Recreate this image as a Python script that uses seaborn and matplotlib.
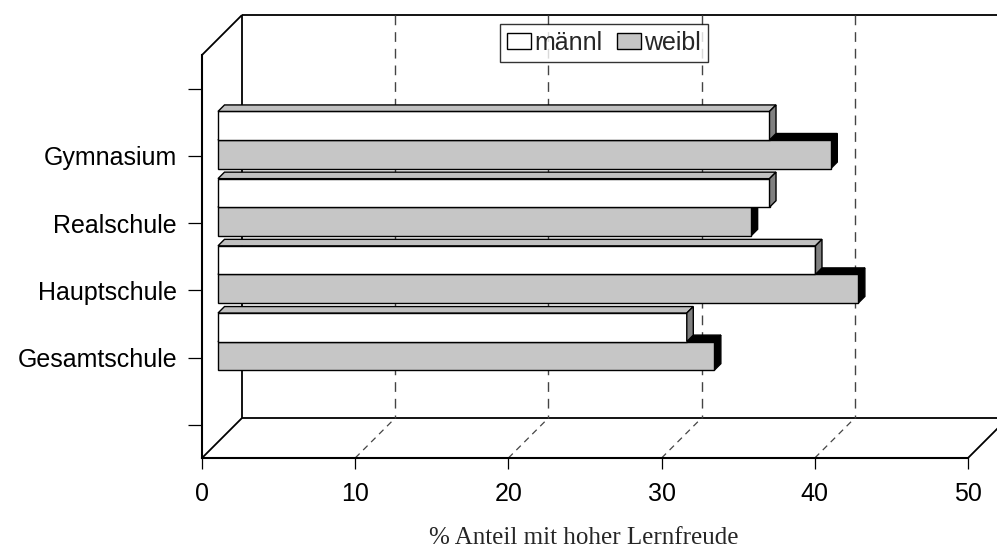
import matplotlib
matplotlib.use("Agg")
import matplotlib.pyplot as plt
import seaborn as sns
import pandas as pd
from matplotlib.patches import Polygon, Patch
from matplotlib.transforms import ScaledTranslation

# ---- data ----
categories = ["Gymnasium", "Realschule", "Hauptschule", "Gesamtschule"]
maennl = [36.0, 36.0, 39.0, 30.6]
weibl = [40.0, 34.8, 41.8, 32.4]
series_names = ["männl", "weibl"]
x_ticks = [0, 10, 20, 30, 40, 50]
x_label = "% Anteil mit hoher Lernfreude"

df = pd.DataFrame({
    "Schule": categories * 2,
    "Geschlecht": [series_names[0]] * 4 + [series_names[1]] * 4,
    "Wert": maennl + weibl,
})

sns.set_style("white")
plt.rcParams["font.family"] = ["Liberation Sans", "DejaVu Sans"]

W, H = 997, 550
fig = plt.figure(figsize=(W / 100, H / 100), dpi=100)
ax = fig.add_axes([0, 0, 1, 1])

WHITE = "#ffffff"
DOT = "#c6c6c6"
palette = {series_names[0]: WHITE, series_names[1]: DOT}

sns.barplot(data=df, x="Wert", y="Schule", hue="Geschlecht", order=categories,
            hue_order=series_names, orient="h", width=0.85, dodge=True,
            palette=palette, saturation=1, edgecolor="black", linewidth=1.0,
            legend=False, ax=ax)

# pixel <-> data mapping
px0, ppu = 202.0, 15.32          # x: pixel of 0, pixels per unit
py0, ppk = 156.0, 67.2           # y: pixel of first category, pixels per category
ax.set_xlim(-px0 / ppu, (W - px0) / ppu)
ax.set_ylim((H - py0) / ppk, -py0 / ppk)

def kpx(py):
    return (py - py0) / ppk

k_top, k_bot = kpx(55), kpx(458)
DX = 40 / ppu                    # depth offsets (data units)
DK = -40 / ppk

# bars sit 16px into the depth
shift = ScaledTranslation(0.16, 0.16, fig.dpi_scale_trans)
btrans = ax.transData + shift
ddx, ddk = 6.5 / ppu, -6.5 / ppk

bars = list(ax.patches)
for p in bars:
    p.set_transform(btrans)
    fc = p.get_facecolor()
    is_w = fc[0] < 0.9
    x0 = p.get_x()
    x1 = x0 + p.get_width()
    ka, kb = p.get_y(), p.get_y() + p.get_height()
    kt, kbb = min(ka, kb), max(ka, kb)
    top = [(x0, kt), (x1, kt), (x1 + ddx, kt + ddk), (x0 + ddx, kt + ddk)]
    side = [(x1, kt), (x1, kbb), (x1 + ddx, kbb + ddk), (x1 + ddx, kt + ddk)]
    if is_w:
        p.set_zorder(3)
        tcol, scol, z = "black", "black", 2
    else:
        p.set_zorder(4)
        tcol, scol, z = "#c0c0c0", "#808080", 5
    for pts, col in ((top, tcol), (side, scol)):
        ax.add_patch(Polygon(pts, closed=True, facecolor=col, edgecolor="black",
                             linewidth=1.0, transform=btrans, zorder=z))

# ---- 3D frame ----
lw = 1.3
def line(xs, ks, **kw):
    ax.plot(xs, ks, color=kw.pop("color", "black"), lw=kw.pop("lw", lw),
            solid_capstyle="butt", zorder=kw.pop("zorder", 1), **kw)

line([DX, DX], [k_top + DK, k_bot + DK])
line([DX, 60], [k_top + DK, k_top + DK])
line([DX, 60], [k_bot + DK, k_bot + DK])
line([0, DX], [k_top, k_top + DK])
line([0, DX], [k_bot, k_bot + DK])
line([50, 50 + DX], [k_bot, k_bot + DK])
for v in x_ticks[1:-1]:
    line([v + DX, v + DX], [k_top + DK, k_bot + DK], color="#444444", lw=1.0,
         linestyle=(0, (7, 5)))
    line([v, v + DX], [k_bot, k_bot + DK], color="#444444", lw=0.9,
         linestyle=(0, (5, 4)))

# ---- axes (front) ----
for s in ["top", "right"]:
    ax.spines[s].set_visible(False)
ax.spines["left"].set_position(("data", 0))
ax.spines["left"].set_bounds(k_bot, k_top)
ax.spines["bottom"].set_position(("data", k_bot))
ax.spines["bottom"].set_bounds(0, 50)
for s in ["left", "bottom"]:
    ax.spines[s].set_linewidth(1.5)
    ax.spines[s].set_color("black")
    ax.spines[s].set_zorder(6)

ax.set_xticks(x_ticks)
ax.set_xticklabels([str(v) for v in x_ticks])
ax.set_yticks([-1, 0, 1, 2, 3, 4])
ax.set_yticklabels([""] + categories + [""])
ax.tick_params(axis="x", direction="out", length=8, width=0.9, pad=9,
               labelsize=18, colors="black", bottom=True)
ax.tick_params(axis="y", direction="out", length=10, width=0.9, pad=8,
               labelsize=18, colors="black", left=True)
ax.set_ylabel("")
ax.set_xlabel(x_label, fontsize=18, family=["Liberation Serif", "DejaVu Serif"])
ax.xaxis.set_label_coords(584 / W, 1 - 538 / H)
ax.xaxis.label.set_va("center")

# ---- legend ----
handles = [Patch(facecolor=WHITE, edgecolor="black", linewidth=1.0, label=series_names[0]),
           Patch(facecolor=DOT, edgecolor="black", linewidth=1.0, label=series_names[1])]
leg = ax.legend(handles=handles, loc="upper left", ncol=2,
                bbox_to_anchor=(500 / W, 1 - 24 / H), bbox_transform=fig.transFigure,
                fontsize=18, frameon=True, fancybox=False, borderpad=0.28,
                handlelength=0.96, handleheight=0.64, handletextpad=0.12,
                columnspacing=0.6, borderaxespad=0)
leg.get_frame().set_edgecolor("black")
leg.get_frame().set_linewidth(1.0)
leg.set_zorder(10)

fig.savefig("out.png", dpi=100, facecolor="white")
